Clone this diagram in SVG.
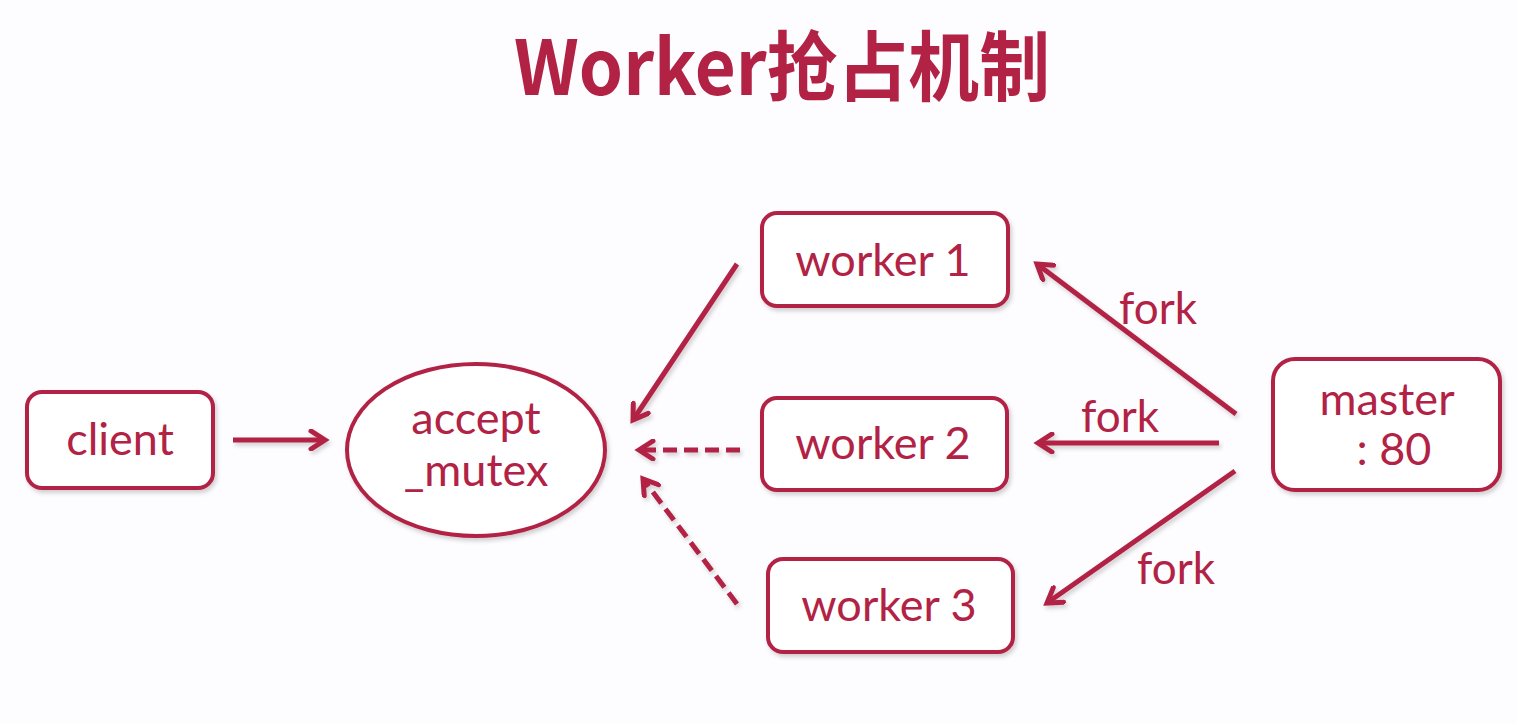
<svg xmlns="http://www.w3.org/2000/svg" width="1517" height="724" viewBox="0 0 1517 724">
<defs>
<marker id="arr" viewBox="0 0 22 22" refX="17" refY="11" markerWidth="22" markerHeight="22" markerUnits="userSpaceOnUse" orient="auto">
<path d="M3,2 L17,11 L3,20" fill="none" stroke="#b22245" stroke-width="5" stroke-linejoin="miter" stroke-linecap="round"/>
</marker>
<filter id="sh" x="-20%" y="-20%" width="140%" height="140%">
<feDropShadow dx="2" dy="3" stdDeviation="2" flood-color="#000" flood-opacity="0.18"/>
</filter>
</defs>
<style>
.box{fill:#fff;stroke:#b22245;stroke-width:4}
.lbl{font-family:"Lato","Open Sans","Noto Sans",sans-serif;font-size:45px;fill:#b22245;text-anchor:middle}
.con{stroke:#b22245;stroke-width:5;fill:none;marker-end:url(#arr)}
.dash{stroke-dasharray:14 7}
.fork{font-family:"Lato","Open Sans","Noto Sans",sans-serif;font-size:44px;fill:#b22245}
</style>
<rect width="1517" height="724" fill="#fdfcfe"/>
<text x="782" y="95" font-family="'Noto Sans CJK SC','Noto Sans',sans-serif" font-weight="bold" font-size="76" fill="#b22245" text-anchor="middle" textLength="536" lengthAdjust="spacingAndGlyphs">Worker抢占机制</text>
<g id="client"><rect class="box" x="27" y="392" width="186" height="96" rx="15" filter="url(#sh)"/><text class="lbl" x="120" y="455">client</text></g>
<g id="accept_mutex"><ellipse class="box" cx="476" cy="450" rx="129" ry="86" filter="url(#sh)"/><text class="lbl" x="476" y="434">accept</text><text class="lbl" x="476" y="486">_mutex</text></g>
<g id="worker1"><rect class="box" x="762" y="213" width="246" height="93" rx="15" filter="url(#sh)"/><text class="lbl" x="883" y="276">worker 1</text></g>
<g id="worker2"><rect class="box" x="762" y="398" width="245" height="92" rx="15" filter="url(#sh)"/><text class="lbl" x="883" y="459">worker 2</text></g>
<g id="worker3"><rect class="box" x="768" y="559" width="245" height="93" rx="15" filter="url(#sh)"/><text class="lbl" x="889" y="621">worker 3</text></g>
<g id="master"><rect class="box" x="1273" y="359" width="227" height="131" rx="22" filter="url(#sh)"/><text class="lbl" x="1387" y="415">master</text><text class="lbl" x="1394" y="465">: 80</text></g>
<g id="connectors" filter="url(#sh)">
<line class="con" x1="233" y1="440" x2="325" y2="440"/>
<line class="con" x1="737" y1="264" x2="633" y2="420"/>
<line class="con dash" x1="740" y1="450" x2="639" y2="450"/>
<line class="con dash" x1="737" y1="604" x2="643" y2="479"/>
<line class="con" x1="1236" y1="414" x2="1037" y2="264"/>
<line class="con" x1="1219" y1="443" x2="1038" y2="443"/>
<line class="con" x1="1235" y1="471" x2="1047" y2="603"/>
</g>
<text class="fork" x="1119" y="324">fork</text>
<text class="fork" x="1081" y="432">fork</text>
<text class="fork" x="1137" y="584">fork</text>
</svg>
